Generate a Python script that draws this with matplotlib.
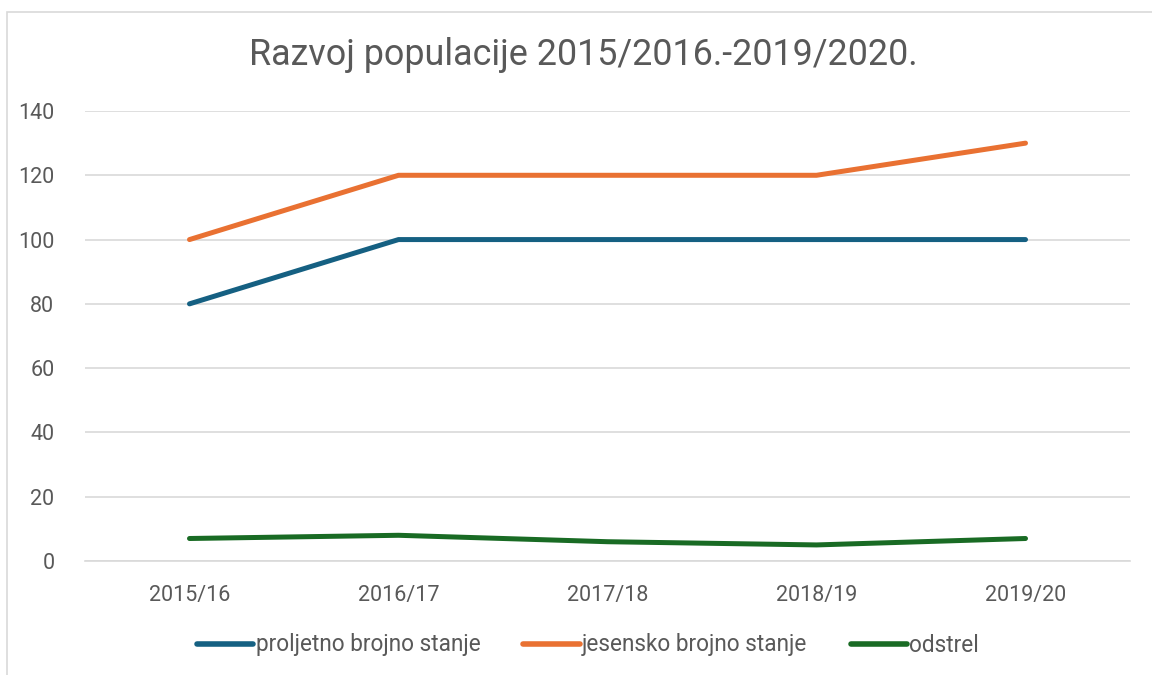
import matplotlib
matplotlib.use("Agg")
import matplotlib.pyplot as plt
from matplotlib.patches import Rectangle

categories = ["2015/16", "2016/17", "2017/18", "2018/19", "2019/20"]
proljetno = [80, 100, 100, 100, 100]
jesensko = [100, 120, 120, 120, 130]
odstrel = [7, 8, 6, 5, 7]
series_names = ["proljetno brojno stanje", "jesensko brojno stanje", "odstrel"]
colors = ["#156082", "#E97132", "#196B24"]
title = "Razvoj populacije 2015/2016.-2019/2020."
yticks = [0, 20, 40, 60, 80, 100, 120, 140]

plt.rcParams['font.family'] = ['Roboto', 'DejaVu Sans']
W, H = 1152, 675
fig = plt.figure(figsize=(W / 100, H / 100), dpi=100)
fig.patch.set_facecolor("white")

# outer chart border
fig.add_artist(Rectangle((7 / W, -0.01), 1.1, 1 - 12 / H + 0.01, transform=fig.transFigure,
                         fill=False, edgecolor="#D9D9D9", linewidth=1.2))

ax = fig.add_axes([85 / W, 1 - 561 / H, (1130 - 85) / W, (561 - 111) / H])
x = list(range(len(categories)))
for vals, name, c in zip([proljetno, jesensko, odstrel], series_names, colors):
    ax.plot(x, vals, color=c, lw=3.6, solid_capstyle="round", solid_joinstyle="round", label=name)

ax.set_xlim(-0.5, len(categories) - 0.5)
ax.set_ylim(0, 140)
ax.set_yticks(yticks)
ax.set_xticks(x)
ax.set_xticklabels(categories)
ax.grid(axis="y", color="#D9D9D9", lw=1.2)
ax.set_axisbelow(True)
for s in ["top", "right", "left"]:
    ax.spines[s].set_visible(False)
ax.spines["bottom"].set_color("#D9D9D9")
ax.spines["bottom"].set_linewidth(1.2)
ax.tick_params(axis="both", length=0, colors="#595959", labelsize=15.5)
ax.tick_params(axis="y", pad=22)
ax.tick_params(axis="x", pad=17)

fig.text(583 / W, 1 - 55 / H, title, ha="center", va="center", fontsize=25.8, color="#595959")

leg = fig.legend(loc="center", bbox_to_anchor=(588 / W, 1 - 645 / H), ncol=3, frameon=False,
                 fontsize=16.3, handlelength=2.5, handletextpad=0.1, columnspacing=1.9,
                 labelcolor="#595959")
for l in leg.get_lines():
    l.set_linewidth(4)
    l.set_solid_capstyle("round")

fig.savefig("out.png", dpi=100)
